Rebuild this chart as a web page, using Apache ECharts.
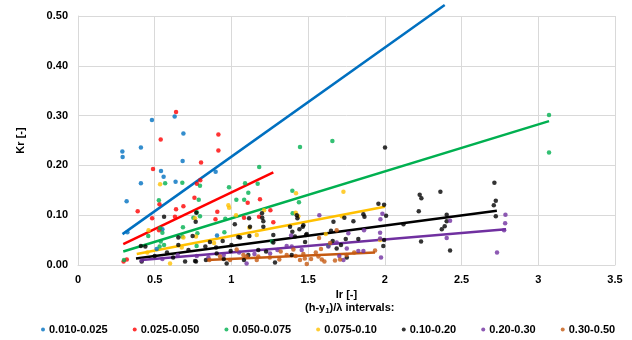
<!DOCTYPE html>
<html>
<head>
<meta charset="utf-8">
<script src="https://cdn.jsdelivr.net/npm/echarts@6/dist/echarts.min.js"></script>
<style>
  html, body { margin: 0; padding: 0; background: #fff; }
  #chart { width: 632px; height: 340px; }
</style>
</head>
<body>
<div id="chart"></div>
<script>
// interval names (legend)
const names = ['0.010-0.025', '0.025-0.050', '0.050-0.075', '0.075-0.10', '0.10-0.20', '0.20-0.30', '0.30-0.50'];
const colors = ['#0070C0', '#FF0000', '#00B050', '#FFC000', '#000000', '#7030A0', '#C55A11'];

// measured points [Ir, Kr]
const pts010 = [[0.289,0.228],[0.291,0.217],[0.317,0.128],[0.41,0.236],[0.41,0.164],[0.482,0.291],[0.541,0.189],[0.558,0.177],[0.63,0.298],[0.636,0.167],[0.687,0.264],[0.682,0.209],[0.897,0.187],[0.322,0.066],[0.55,0.072],[0.513,0.032],[0.906,0.059]];
const pts025 = [[0.639,0.307],[0.539,0.252],[0.915,0.262],[0.915,0.230],[0.489,0.193],[0.802,0.206],[0.797,0.170],[0.775,0.163],[0.389,0.108],[0.531,0.122],[0.639,0.112],[0.687,0.118],[0.759,0.135],[0.483,0.094],[0.632,0.097],[0.528,0.070],[0.297,0.007],[0.318,0.011],[0.896,0.092],[0.908,0.107],[1.082,0.095],[1.186,0.132],[1.254,0.110],[1.273,0.086],[1.106,0.125],[1.18,0.097]];
const pts050 = [[0.30,0.010],[0.527,0.130],[0.568,0.164],[0.68,0.165],[0.795,0.159],[0.787,0.131],[0.795,0.098],[0.752,0.095],[0.458,0.058],[0.535,0.074],[0.55,0.065],[0.539,0.047],[0.532,0.037],[0.561,0.040],[0.684,0.076],[0.778,0.064],[0.773,0.038],[0.68,0.057],[0.984,0.156],[1.032,0.131],[1.089,0.164],[1.083,0.131],[1.110,0.145],[1.181,0.197],[1.171,0.163],[0.96,0.093],[0.954,0.066],[1.447,0.237],[1.397,0.149],[1.440,0.126],[1.399,0.104],[1.264,0.047],[1.658,0.249],[3.07,0.301],[3.07,0.226],[1.632,0.038],[0.774,0.106]];
const pts075 = [[0.535,0.162],[0.452,0.025],[0.60,0.003],[0.687,0.055],[0.763,0.094],[0.769,0.057],[0.887,0.044],[0.980,0.120],[0.985,0.115],[1.030,0.100],[1.117,0.075],[1.165,0.060],[1.213,0.110],[1.419,0.105],[1.436,0.098],[1.421,0.144],[0.676,0.035],[1.730,0.147],[1.719,0.098],[1.969,0.050],[1.615,0.062],[0.46,0.070]];
const pts10 = [[0.561,0.097],[0.439,0.037],[0.654,0.055],[0.654,0.040],[0.771,0.105],[0.767,0.087],[0.830,0.037],[0.698,0.007],[0.769,0.007],[0.969,0.003],[1.022,0.082],[1.056,0.055],[1.117,0.058],[1.115,0.094],[1.199,0.104],[1.208,0.077],[1.273,0.045],[1.397,0.067],[1.414,0.057],[1.430,0.094],[1.465,0.077],[1.491,0.062],[0.415,0.007],[0.41,0.038],[0.747,0.058],[1.121,0.077],[1.201,0.095],[1.208,0.088],[1.273,0.060],[0.86,0.046],[0.943,0.048],[1.045,0.056],[1.382,0.077],[1.426,0.100],[1.443,0.072],[0.763,0.008],[0.834,0.010],[1.082,0.010],[1.284,0.005],[1.393,0.020],[1.226,0.027],[1.175,0.030],[0.995,0.028],[0.904,0.023],[1.11,0.020],[1.958,0.123],[1.995,0.121],[2.008,0.099],[1.860,0.102],[1.867,0.097],[1.795,0.088],[1.736,0.095],[1.665,0.087],[1.649,0.069],[1.469,0.080],[1.480,0.046],[1.486,0.060],[1.66,0.048],[1.686,0.033],[1.714,0.040],[1.745,0.052],[1.827,0.052],[1.990,0.038],[1.995,0.050],[2.121,0.082],[1.752,0.015],[2.714,0.165],[2.723,0.129],[2.710,0.120],[2.723,0.098],[2.227,0.141],[2.238,0.134],[2.362,0.147],[2.221,0.108],[2.403,0.101],[2.403,0.088],[2.390,0.078],[2.371,0.072],[2.236,0.047],[2.425,0.029],[2.001,0.236],[0.58,0.025],[0.62,0.015],[0.50,0.018],[0.90,0.035],[0.95,0.012],[1.0,0.040],[0.72,0.030]];
const pts20 = [[0.415,0.009],[0.774,0.018],[1.099,0.003],[1.389,0.059],[1.573,0.100],[1.984,0.103],[1.971,0.092],[1.762,0.064],[1.864,0.070],[1.969,0.065],[1.752,0.033],[1.827,0.028],[1.860,0.028],[1.975,0.015],[1.730,0.010],[1.703,0.018],[1.686,0.045],[1.632,0.037],[1.969,0.053],[2.786,0.101],[2.784,0.084],[2.777,0.070],[2.731,0.025],[2.403,0.054],[2.425,0.089],[1.36,0.038],[1.393,0.037],[1.252,0.023],[1.458,0.030],[0.55,0.012],[0.65,0.020],[0.85,0.015],[0.95,0.020],[1.05,0.025],[1.15,0.022],[1.30,0.030]];
const pts30 = [[1.571,0.054],[1.584,0.032],[1.686,0.070],[1.567,0.017],[1.519,0.012],[1.491,0.002],[1.589,0.011],[1.606,0.007],[1.675,0.009],[1.708,0.011],[1.936,0.029],[1.643,0.044],[1.469,0.022],[1.034,0.031],[1.165,0.010],[1.175,0.017],[1.312,0.011],[1.321,0.027],[1.36,0.020],[1.419,0.018],[1.447,0.010],[0.926,0.017],[0.991,0.010],[1.078,0.020],[0.856,0.010],[1.404,0.031],[1.478,0.013],[1.099,0.017],[1.25,0.015],[1.75,0.020],[1.80,0.025],[1.55,0.025]];

// linear trend lines, start and end points
const trend010 = [[0.29,0.062],[2.39,0.522]];
const trend025 = [[0.295,0.042],[1.273,0.186]];
const trend050 = [[0.295,0.027],[3.07,0.289]];
const trend075 = [[0.383,0.022],[2.0,0.117]];
const trend10 = [[0.378,0.013],[2.73,0.109]];
const trend20 = [[0.415,0.010],[2.79,0.072]];
const trend30 = [[0.839,0.010],[1.936,0.025]];

const xTicks = [0, 0.5, 1, 1.5, 2, 2.5, 3, 3.5];
const yTicks = [0, 0.1, 0.2, 0.3, 0.4, 0.5];

const allPts = [pts010, pts025, pts050, pts075, pts10, pts20, pts30];
const allTrends = [trend010, trend025, trend050, trend075, trend10, trend20, trend30];

const font = 'Liberation Sans, Arial, sans-serif';

var myChart = echarts.init(document.getElementById('chart'));

var series = [];
// trend lines first so dots sit on top
allTrends.forEach(function (t, i) {
  series.push({
    name: 'trend ' + names[i],
    type: 'line',
    data: t,
    showSymbol: false,
    symbol: 'none',
    clip: false,
    silent: true,
    lineStyle: { color: colors[i], width: 2.5 },
    z: 2
  });
});
allPts.forEach(function (p, i) {
  series.push({
    name: names[i],
    type: 'scatter',
    data: p,
    symbolSize: 4.5,
    itemStyle: { color: colors[i] },
    z: 3
  });
});

var option = {
  animation: false,
  color: colors,
  title: {
    text: '{t|(h-y}{s|1}{t|)/λ intervals:}',
    left: 300,
    top: 296,
    textStyle: {
      rich: {
        t: { fontFamily: font, fontSize: 11, fontWeight: 'bold', color: '#000' },
        s: { fontFamily: font, fontSize: 8, fontWeight: 'bold', color: '#000', verticalAlign: 'bottom', padding: [6, 0, 0, 0] }
      }
    }
  },
  legend: {
    data: names,
    left: 36,
    top: 319,
    icon: 'circle',
    itemWidth: 4,
    itemHeight: 4,
    itemGap: 25,
    textStyle: { fontFamily: font, fontSize: 11, fontWeight: 'bold', color: '#000', padding: [0, 0, 0, -1] }
  },
  grid: { left: 78, right: 17, top: 16, bottom: 75 },
  xAxis: {
    type: 'value',
    min: xTicks[0],
    max: xTicks[xTicks.length - 1],
    interval: 0.5,
    name: 'Ir [-]',
    nameLocation: 'middle',
    nameGap: 18,
    nameTextStyle: { fontFamily: font, fontSize: 11, fontWeight: 'bold', color: '#000' },
    axisLine: { show: true, lineStyle: { color: '#d9d9d9', width: 1 } },
    axisTick: { show: false },
    axisLabel: { fontFamily: font, fontSize: 11, fontWeight: 'bold', color: '#000', margin: 9 },
    splitLine: { show: true, lineStyle: { color: '#d9d9d9', width: 1 } }
  },
  yAxis: {
    type: 'value',
    min: yTicks[0],
    max: yTicks[yTicks.length - 1],
    interval: 0.1,
    name: 'Kr [-]',
    nameLocation: 'middle',
    nameGap: 52,
    nameRotate: 90,
    nameTextStyle: { fontFamily: font, fontSize: 11, fontWeight: 'bold', color: '#000' },
    axisLine: { show: true, lineStyle: { color: '#d9d9d9', width: 1 } },
    axisTick: { show: false },
    axisLabel: {
      fontFamily: font, fontSize: 11, fontWeight: 'bold', color: '#000', margin: 10,
      formatter: function (v) { return v.toFixed(2); }
    },
    splitLine: { show: true, lineStyle: { color: '#d9d9d9', width: 1 } }
  },
  series: series
};

myChart.setOption(option);
</script>
</body>
</html>
